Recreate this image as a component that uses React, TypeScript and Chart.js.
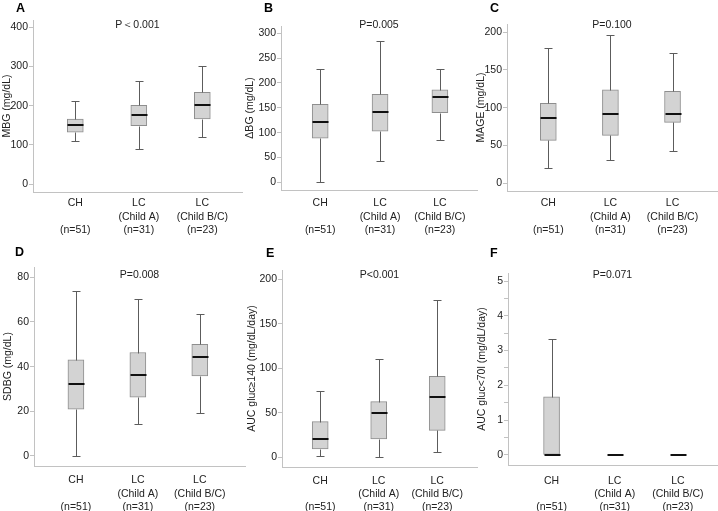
import React, { useEffect, useRef } from "react";
import { Chart, registerables } from "chart.js";

Chart.register(...registerables);

// ---------- data ----------
const groupLabels: string[][] = [
  ["CH", "", "(n=51)"],
  ["LC", "(Child A)", "(n=31)"],
  ["LC", "(Child B/C)", "(n=23)"],
];

const mbgMin = [111, 90, 121];
const mbgQ1 = [132, 149, 166];
const mbgMedian = [150, 177, 201];
const mbgQ3 = [166, 201, 234];
const mbgMax = [212, 264, 301];
const mbgTicks = [0, 100, 200, 300, 400];

const dbgMin = [1, 43, 85];
const dbgQ1 = [89, 103, 140];
const dbgMedian = [121, 141, 172];
const dbgQ3 = [157, 177, 186];
const dbgMax = [228, 284, 229];
const dbgTicks = [0, 50, 100, 150, 200, 250, 300];

const mageMin = [19.5, 30, 42];
const mageQ1 = [56.6, 63.3, 80.5];
const mageMedian = [85.8, 92, 91.2];
const mageQ3 = [105.8, 123.5, 121.7];
const mageMax = [179.6, 196, 172.6];
const mageTicks = [0, 50, 100, 150, 200];

const sdbgMin = [0, 14.3, 19.1];
const sdbgQ1 = [21, 26.3, 35.8];
const sdbgMedian = [32.1, 36.3, 44.5];
const sdbgQ3 = [43, 46.3, 50];
const sdbgMax = [73.7, 70.4, 63.4];
const sdbgTicks = [0, 20, 40, 60, 80];

const auc140Min = [1.5, 0, 5.6];
const auc140Q1 = [9.4, 20.6, 30.3];
const auc140Median = [20.2, 49.4, 68.2];
const auc140Q3 = [40, 62.5, 91];
const auc140Max = [74.9, 110, 177];
const auc140Ticks = [0, 50, 100, 150, 200];

const auc70Min = [0, 0, 0];
const auc70Q1 = [0, 0, 0];
const auc70Median = [0, 0, 0];
const auc70Q3 = [1.67, 0, 0];
const auc70Max = [3.33, 0, 0];
const auc70Ticks = [0, 0.5, 1, 1.5, 2, 2.5, 3, 3.5, 4, 4.5, 5];

const panelLetters = ["A", "B", "C", "D", "E", "F"];
const pValues = ["P\uFF1C0.001", "P=0.005", "P=0.100", "P=0.008", "P<0.001", "P=0.071"];
const yTitles = [
  "MBG (mg/dL)",
  "\u0394BG (mg/dL)",
  "MAGE (mg/dL)",
  "SDBG (mg/dL)",
  "AUC gluc\u2265140 (mg/dL/day)",
  "AUC gluc<70l (mg/dL/day)",
];

const panelStats = [
  { min: mbgMin, q1: mbgQ1, med: mbgMedian, q3: mbgQ3, max: mbgMax, ticks: mbgTicks },
  { min: dbgMin, q1: dbgQ1, med: dbgMedian, q3: dbgQ3, max: dbgMax, ticks: dbgTicks },
  { min: mageMin, q1: mageQ1, med: mageMedian, q3: mageQ3, max: mageMax, ticks: mageTicks },
  { min: sdbgMin, q1: sdbgQ1, med: sdbgMedian, q3: sdbgQ3, max: sdbgMax, ticks: sdbgTicks },
  { min: auc140Min, q1: auc140Q1, med: auc140Median, q3: auc140Q3, max: auc140Max, ticks: auc140Ticks },
  { min: auc70Min, q1: auc70Q1, med: auc70Median, q3: auc70Q3, max: auc70Max, ticks: auc70Ticks },
];

// ---------- layout (positions / sizes only) ----------
type Layout = {
  left: number; top: number; w: number; h: number;
  plot: [number, number, number, number];
  xr: [number, number]; yr: [number, number];
  titleX: number; labelPad: number; letter: [number, number];
};
const layouts: Layout[] = [
  { left: 0, top: 0, w: 245, h: 250, plot: [33, 20, 242, 192], xr: [-0.666, 2.625], yr: [-20.4, 418.6], titleX: 7, labelPad: 5, letter: [16, 8] },
  { left: 238, top: 0, w: 242, h: 250, plot: [43, 26, 239, 190], xr: [-0.655, 2.62], yr: [-15.5, 314.7], titleX: 12, labelPad: 7, letter: [264, 8] },
  { left: 470, top: 0, w: 248, h: 250, plot: [37, 24, 247, 191], xr: [-0.665, 2.716], yr: [-10.6, 211], titleX: 11, labelPad: 6, letter: [490, 8] },
  { left: 0, top: 250, w: 247, h: 261, plot: [34, 17, 245, 216], xr: [-0.677, 2.73], yr: [-4.5, 84.6], titleX: 8, labelPad: 8, letter: [15, 252] },
  { left: 238, top: 250, w: 242, h: 261, plot: [44, 20, 239, 217], xr: [-0.653, 2.68], yr: [-10.9, 210.4], titleX: 14, labelPad: 7.5, letter: [266, 253] },
  { left: 470, top: 250, w: 248, h: 261, plot: [38, 23, 247, 215], xr: [-0.69, 2.62], yr: [-0.29, 5.23], titleX: 12, labelPad: 9.5, letter: [490, 253] },
];

const FONT = "'Liberation Sans', Arial, sans-serif";
const AXIS = "#c2c2c2";
const TEXT = "#222222";

function Panel({ idx }: { idx: number }) {
  const ref = useRef<HTMLCanvasElement | null>(null);
  useEffect(() => {
    const L = layouts[idx];
    const S = panelStats[idx];
    const [pl, pt, pr, pb] = L.plot;
    const whiskerPlugin = {
      id: "whiskers" + idx,
      afterDatasetsDraw(chart: any) {
        const { ctx, scales, chartArea } = chart;
        const x = scales.x;
        const y = scales.y;
        const boxW = 16;
        const capW = boxW / 2;
        ctx.save();
        groupLabels.forEach((_, i) => {
          const cx = Math.round(x.getPixelForValue(i)) + 0.5;
          const yMin = Math.round(y.getPixelForValue(S.min[i])) + 0.5;
          const yQ1 = Math.round(y.getPixelForValue(S.q1[i])) + 0.5;
          const yQ3 = Math.round(y.getPixelForValue(S.q3[i])) + 0.5;
          const yMax = Math.round(y.getPixelForValue(S.max[i])) + 0.5;
          const yMed = Math.round(y.getPixelForValue(S.med[i]));
          ctx.strokeStyle = "#5c5c5c";
          ctx.lineWidth = 1;
          ctx.beginPath();
          if (S.max[i] > S.q3[i]) {
            ctx.moveTo(cx, yQ3); ctx.lineTo(cx, yMax);
            ctx.moveTo(cx - capW / 2, yMax); ctx.lineTo(cx + capW / 2, yMax);
          }
          if (S.min[i] < S.q1[i]) {
            ctx.moveTo(cx, yQ1); ctx.lineTo(cx, yMin);
            ctx.moveTo(cx - capW / 2, yMin); ctx.lineTo(cx + capW / 2, yMin);
          }
          ctx.stroke();
          ctx.strokeStyle = "#111111";
          ctx.lineWidth = 2;
          ctx.beginPath();
          ctx.moveTo(cx - boxW / 2, yMed); ctx.lineTo(cx + boxW / 2, yMed);
          ctx.stroke();
        });
        ctx.fillStyle = TEXT;
        ctx.font = `10.5px ${FONT}`;
        ctx.textAlign = "center";
        ctx.textBaseline = "middle";
        ctx.fillText(pValues[idx], (chartArea.left + chartArea.right) / 2, 25);
        ctx.restore();
      },
    };
    const chart = new Chart(ref.current as HTMLCanvasElement, {
      type: "bar",
      data: {
        datasets: [
          {
            data: groupLabels.map((_, i) => ({ x: i, y: [S.q1[i], S.q3[i]] })) as any,
            backgroundColor: "#d3d3d3",
            borderColor: "#8e8e8e",
            borderWidth: 1,
            borderSkipped: false,
            barThickness: 16,
          },
        ],
      },
      options: {
        responsive: false,
        animation: false,
        events: [],
        layout: { padding: { left: 0, top: pt, right: L.w - pr, bottom: 0 } },
        plugins: { legend: { display: false }, tooltip: { enabled: false }, title: { display: false } },
        scales: {
          x: {
            type: "linear",
            offset: false,
            min: L.xr[0],
            max: L.xr[1],
            afterBuildTicks: (s: any) => { s.ticks = groupLabels.map((_, i) => ({ value: i })); },
            afterFit: (s: any) => { s.height = L.h - pb; },
            ticks: {
              callback: (v: any) => groupLabels[Math.round(Number(v))],
              font: { family: FONT, size: 10.5, lineHeight: 1.25 },
              color: TEXT,
              padding: L.labelPad,
              maxRotation: 0,
              autoSkip: false,
            },
            grid: { display: true, offset: false, drawOnChartArea: false, drawTicks: false, color: AXIS },
            border: { display: true, color: AXIS, width: 1 },
          },
          y: {
            type: "linear",
            min: L.yr[0],
            max: L.yr[1],
            afterBuildTicks: (s: any) => { s.ticks = S.ticks.map((v) => ({ value: v })); },
            afterFit: (s: any) => { s.width = pl; },
            ticks: {
              callback: (v: any) => (Number.isInteger(Number(v)) ? String(v) : ""),
              font: { family: FONT, size: 10.5 },
              color: TEXT,
              padding: 1,
            },
            grid: { display: true, drawOnChartArea: false, drawTicks: true, tickLength: 4, color: AXIS },
            border: { display: true, color: AXIS, width: 1 },
            title: {
              display: true,
              text: yTitles[idx],
              font: { family: FONT, size: 10.5, lineHeight: 1.2 },
              color: TEXT,
              padding: { top: Math.max(0, L.titleX - 6.3), bottom: 0 },
            },
          },
        },
      } as any,
      plugins: [whiskerPlugin],
    });
    return () => chart.destroy();
  }, [idx]);
  const L = layouts[idx];
  return (
    <canvas
      ref={ref}
      width={L.w}
      height={L.h}
      style={{ position: "absolute", left: L.left, top: L.top, width: L.w, height: L.h }}
    />
  );
}

export default function App() {
  return (
    <div style={{ position: "fixed", left: 0, top: 0, width: 718, height: 511, background: "#ffffff", overflow: "hidden" }}>
      {layouts.map((_, i) => (
        <Panel key={i} idx={i} />
      ))}
      {layouts.map((L, i) => (
        <div
          key={"l" + i}
          style={{
            position: "absolute",
            left: L.letter[0],
            top: L.letter[1] - 7,
            fontFamily: FONT,
            fontWeight: "bold",
            fontSize: 12.5,
            lineHeight: "14px",
            color: "#000",
            zIndex: 2,
          }}
        >
          {panelLetters[i]}
        </div>
      ))}
    </div>
  );
}
